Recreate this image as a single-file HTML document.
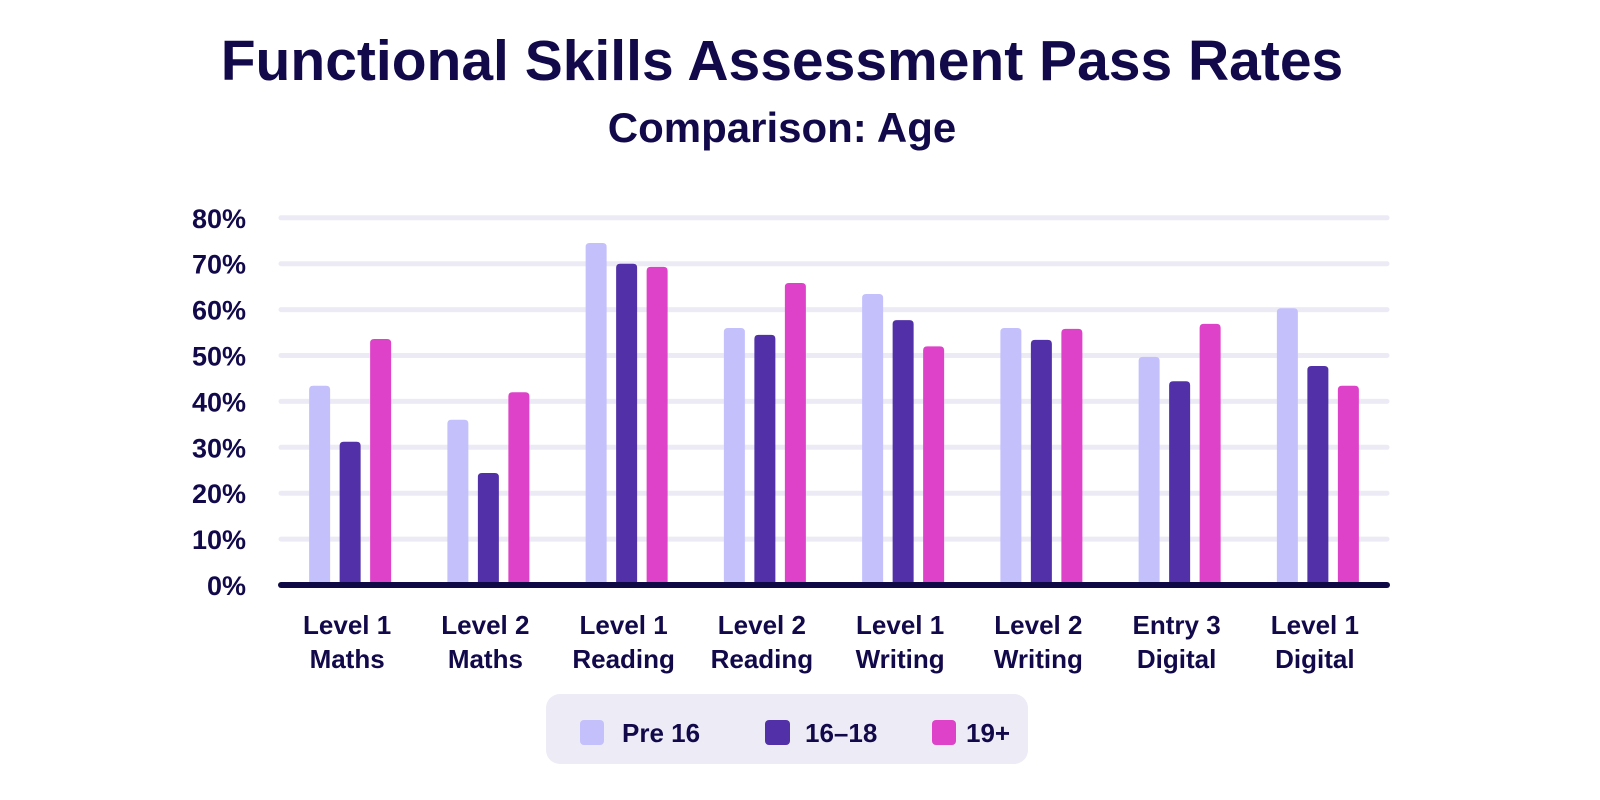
<!DOCTYPE html>
<html><head><meta charset="utf-8"><style>
html,body{margin:0;padding:0;background:#fff;width:1600px;height:800px;overflow:hidden}
svg text{font-family:"Liberation Sans",sans-serif;fill:#12094a;font-weight:bold}
</style></head><body>
<svg id="chart" width="1600" height="800" viewBox="0 0 1600 800">
<text x="782" y="80" text-anchor="middle" font-size="57">Functional Skills Assessment Pass Rates</text>
<text x="782" y="142" text-anchor="middle" font-size="42">Comparison: Age</text>
<g id="grid"></g><g id="bars"></g><g id="labels"></g>
<g>
<rect x="546" y="694" width="482" height="70" rx="14" fill="#ecebf6"/>
<rect x="580" y="720" width="24" height="25" rx="4" fill="#c3c0fb"/>
<text x="622" y="742" font-size="26">Pre 16</text>
<rect x="765" y="720" width="25" height="25" rx="4" fill="#5230a8"/>
<text x="805" y="742" font-size="26">16–18</text>
<rect x="932" y="720" width="24" height="25" rx="4" fill="#de42c8"/>
<text x="966" y="742" font-size="26">19+</text>
</g>
</svg>
<script>
const categories=[["Level 1","Maths"],["Level 2","Maths"],["Level 1","Reading"],["Level 2","Reading"],["Level 1","Writing"],["Level 2","Writing"],["Entry 3","Digital"],["Level 1","Digital"]];
const pre16=[43.4,36,74.5,56,63.4,56,49.7,60.3];
const age1618=[31.2,24.4,70,54.5,57.7,53.4,44.4,47.7];
const age19=[53.6,42,69.3,65.8,52,55.8,56.9,43.4];
const ticks=[0,10,20,30,40,50,60,70,80];
const NS="http://www.w3.org/2000/svg";
const x0=281,x1=1387,y0=585,pxPer=45.9;
const y=v=>y0-v*pxPer/10;
const gx=i=>x0+(x1-x0)/categories.length*(i+0.5);
function mk(t,a,p){const e=document.createElementNS(NS,t);for(const k in a)e.setAttribute(k,a[k]);p.appendChild(e);return e;}
const grid=document.getElementById('grid'),bars=document.getElementById('bars'),labels=document.getElementById('labels');
ticks.forEach(t=>{
 if(t>0){const l=mk('line',{x1:x0,x2:x1,y1:y(t),y2:y(t),stroke:'#ecebf5','stroke-width':5,'stroke-linecap':'round'},grid);
 
 }
 const tx=mk('text',{x:246,y:y(t)+10,'text-anchor':'end','font-size':27},labels);tx.textContent=t+'%';
 
 
});
const series=[[pre16,'#c3c0fb','pre16'],[age1618,'#5230a8','16-18'],[age19,'#de42c8','19plus']];
categories.forEach((c,i)=>{
 series.forEach((s,j)=>{
  const v=s[0][i],cx=gx(i)+(j-1)*30.5;
  const r=mk('path',{d:`M${cx-10.5},${y0} L${cx-10.5},${y(v)+4} Q${cx-10.5},${y(v)} ${cx-6.5},${y(v)} L${cx+6.5},${y(v)} Q${cx+10.5},${y(v)} ${cx+10.5},${y(v)+4} L${cx+10.5},${y0} Z`,fill:s[1]},bars);
  
  
 });
 c.forEach((line,k)=>{const t=mk('text',{x:gx(i)-3,y:634+k*34,'text-anchor':'middle','font-size':26},labels);t.textContent=line;
  
  });
});
const ax=mk('line',{x1:x0,x2:x1,y1:y0,y2:y0,stroke:'#0f0a45','stroke-width':6,'stroke-linecap':'round'},bars);


</script>
</body></html>
